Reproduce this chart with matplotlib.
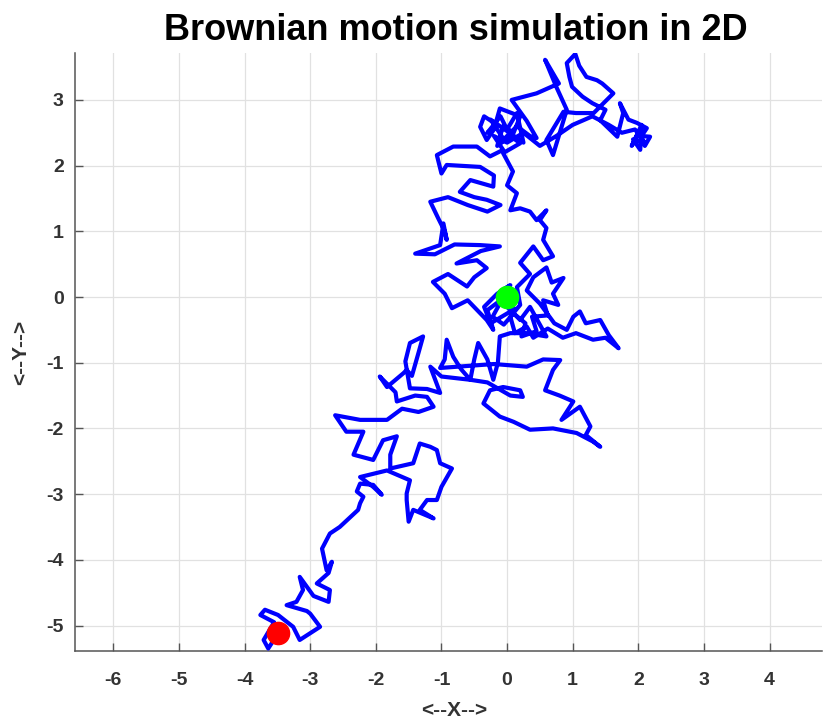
#!/usr/bin/env python3

# 2D brownian motion path

#import modules
import matplotlib
matplotlib.use("Agg")
import matplotlib.pyplot as plt
import numpy as np

#data (x, y), in path order
seg_center = [(0.00, 0.00), (-0.08, 0.10), (0.05, 0.18), (-0.15, 0.05), (-0.35, -0.15), (-0.25, -0.40),
              (0.12, -0.18), (-0.10, -0.08), (-0.22, -0.30), (-0.05, -0.42), (0.10, -0.25),
              (0.28, -0.40), (0.22, -0.60), (0.45, -0.52), (0.38, -0.30), (0.62, -0.28), (0.55, -0.05),
              (0.78, -0.12), (0.70, 0.05), (0.86, 0.29), (0.68, 0.22), (0.60, 0.45), (0.40, 0.30),
              (0.30, 0.10), (0.50, -0.10), (0.72, -0.40), (0.91, -0.50), (1.01, -0.30), (1.11, -0.22),
              (1.20, -0.40), (1.42, -0.35), (1.55, -0.58), (1.70, -0.78), (1.50, -0.62), (1.31, -0.65),
              (1.05, -0.55), (0.85, -0.62), (0.62, -0.48), (0.40, -0.62), (0.30, -0.45), (0.12, -0.55),
              (0.05, -0.30), (0.20, -0.12), (0.15, 0.15), (0.35, 0.35), (0.20, 0.52), (0.40, 0.77),
              (0.55, 0.56), (0.70, 0.62), (0.55, 0.87)]
seg_upper = [(0.60, 1.05), (0.50, 1.17), (0.60, 1.32), (0.45, 1.17), (0.35, 1.30), (0.20, 1.35),
             (0.05, 1.32), (0.15, 1.58), (0.00, 1.70), (0.09, 1.91), (-0.06, 2.19), (0.20, 2.34),
             (0.05, 2.45), (-0.15, 2.30), (-0.06, 2.60), (0.10, 2.50), (0.20, 2.75), (-0.11, 2.87),
             (-0.20, 2.55), (-0.31, 2.39), (-0.41, 2.59), (-0.35, 2.75), (-0.15, 2.62), (-0.30, 2.50),
             (-0.10, 2.75), (0.00, 2.55), (0.15, 2.80), (0.25, 2.35), (-0.25, 2.70), (-0.05, 2.40),
             (0.15, 2.60), (0.35, 2.45), (0.45, 2.42), (0.30, 2.68), (0.07, 3.00), (0.45, 3.10),
             (0.79, 3.25), (0.58, 3.61), (0.75, 3.20), (0.91, 2.85), (0.70, 2.16), (0.60, 2.39),
             (0.86, 2.82)]
seg_top = [(1.05, 2.80), (1.32, 2.80), (1.62, 3.10), (1.45, 3.25), (1.37, 3.30), (1.21, 3.35),
           (1.10, 3.52), (1.04, 3.70), (0.91, 3.56), (0.95, 3.35), (0.99, 3.20), (1.15, 3.05),
           (1.30, 2.95), (1.50, 2.85), (1.42, 2.69), (1.68, 2.44), (1.77, 2.80), (1.72, 2.95),
           (1.85, 2.70), (1.98, 2.65), (2.13, 2.57), (2.05, 2.45), (2.18, 2.44), (2.10, 2.30),
           (2.00, 2.50), (1.90, 2.30), (2.05, 2.62), (2.03, 2.24), (1.92, 2.40), (2.10, 2.35),
           (1.95, 2.55), (1.75, 2.50), (1.55, 2.62), (1.30, 2.75), (1.00, 2.62), (0.75, 2.45),
           (0.50, 2.30), (0.25, 2.50), (0.00, 2.35), (-0.20, 2.45), (-0.06, 2.24), (-0.26, 2.14)]
seg_loop = [(-0.46, 2.29), (-0.82, 2.29), (-1.07, 2.16), (-1.00, 1.88), (-0.92, 2.01), (-0.41, 1.98),
            (-0.20, 1.85), (-0.21, 1.68), (-0.56, 1.78), (-0.72, 1.60), (-0.50, 1.52), (-0.31, 1.48),
            (-0.10, 1.40), (-0.30, 1.30), (-0.60, 1.40), (-0.90, 1.52), (-1.17, 1.45), (-1.05, 1.20),
            (-0.95, 1.00), (-0.92, 0.87), (-0.97, 1.12), (-1.02, 0.79)]
seg_mid = [(-1.40, 0.66), (-1.10, 0.65), (-0.80, 0.80), (-0.41, 0.79), (-0.11, 0.77), (-0.40, 0.70),
           (-0.77, 0.51), (-0.46, 0.56), (-0.31, 0.44), (-0.50, 0.30), (-0.61, 0.16), (-0.90, 0.35),
           (-1.13, 0.23), (-0.95, 0.05), (-0.84, -0.17), (-0.60, -0.05), (-0.31, -0.35), (-0.21, -0.50),
           (-0.30, -0.20), (-0.10, -0.05), (0.20, -0.35), (0.35, -0.15), (0.60, -0.60), (0.30, -0.55),
           (0.05, -0.55), (-0.11, -0.60)]
seg_lower = [(-0.14, -1.00), (-0.21, -1.26), (-0.30, -0.95), (-0.44, -0.70), (-0.50, -0.95), (-0.56, -1.26),
             (-0.70, -1.10), (-0.82, -0.91), (-0.92, -0.65), (-0.95, -0.95), (-1.02, -1.08), (-0.60, -1.05),
             (-0.20, -1.02), (0.30, -1.06), (0.55, -0.95), (0.81, -0.96), (0.70, -1.11), (0.58, -1.42),
             (0.80, -1.50), (1.01, -1.59), (0.83, -1.87), (1.11, -1.67), (1.27, -1.97), (1.20, -2.10),
             (1.42, -2.28), (1.31, -2.20), (1.06, -2.07), (0.70, -2.00), (0.35, -2.02), (0.10, -1.90),
             (-0.11, -1.82), (-0.36, -1.62), (-0.26, -1.42), (-0.06, -1.37), (0.20, -1.42), (0.24, -1.52),
             (0.05, -1.50), (-0.30, -1.30), (-0.56, -1.26), (-1.00, -1.21), (-1.17, -1.06), (-1.02, -1.46),
             (-1.22, -1.40), (-1.48, -1.39), (-1.55, -0.98), (-1.48, -0.70), (-1.28, -0.60), (-1.35, -0.85),
             (-1.45, -1.20)]
seg_left = [(-1.53, -1.11), (-1.58, -1.16), (-1.83, -1.37), (-1.94, -1.21), (-1.70, -1.45), (-1.68, -1.59),
            (-1.40, -1.50), (-1.22, -1.52), (-1.12, -1.67), (-1.35, -1.75), (-1.60, -1.70), (-1.83, -1.87),
            (-2.24, -1.87), (-2.62, -1.80), (-2.45, -2.05), (-2.19, -2.05), (-2.34, -2.40), (-2.04, -2.48),
            (-1.89, -2.18), (-1.68, -2.12), (-1.78, -2.40), (-1.78, -2.61), (-1.43, -2.53), (-1.33, -2.23),
            (-1.17, -2.28), (-1.07, -2.33), (-1.02, -2.53), (-0.84, -2.61), (-0.97, -2.84), (-1.00, -2.89),
            (-1.07, -3.09), (-1.22, -3.09), (-1.33, -3.24), (-1.12, -3.37), (-1.43, -3.24), (-1.50, -3.42),
            (-1.53, -3.09), (-1.53, -2.99), (-1.48, -2.79), (-1.83, -2.64), (-2.24, -2.74), (-2.04, -2.89),
            (-1.91, -3.01), (-2.04, -2.86), (-2.24, -2.84), (-2.29, -2.96), (-2.19, -3.04), (-2.24, -3.14),
            (-2.27, -3.24)]
seg_tail = [(-2.55, -3.50), (-2.70, -3.60), (-2.82, -3.83), (-2.75, -4.16), (-2.67, -4.03), (-2.72, -4.20),
            (-2.90, -4.36), (-2.70, -4.46), (-2.72, -4.64), (-2.95, -4.55), (-3.16, -4.26), (-3.11, -4.46),
            (-3.21, -4.64), (-3.36, -4.69), (-3.05, -4.78), (-3.00, -4.82), (-2.85, -5.02), (-3.16, -5.22),
            (-3.26, -5.02), (-3.49, -4.84), (-3.69, -4.76), (-3.76, -4.84), (-3.55, -4.95), (-3.71, -5.22),
            (-3.64, -5.35), (-3.49, -5.12)]

x_ticks = [-6, -5, -4, -3, -2, -1, 0, 1, 2, 3, 4]
y_ticks = [-5, -4, -3, -2, -1, 0, 1, 2, 3]

def main():
    path = np.array(seg_center + seg_upper + seg_top + seg_loop + seg_mid + seg_lower + seg_left + seg_tail)
    px, py = path[:, 0], path[:, 1]

    plt.rcParams["font.family"] = ["Liberation Sans", "DejaVu Sans"]
    plt.rcParams["font.weight"] = "bold"
    plt.rcParams["axes.unicode_minus"] = False #plain hyphen like the reference

    #create figure and axes (placed to match the reference pixels)
    fig = plt.figure(figsize=(8.23, 7.22), dpi=100, facecolor="white")
    ax = fig.add_axes([75/823, 71/722, 747/823, 598/722])

    #path, start and end
    ax.plot(px, py, color=(0, 0, 1), linewidth=3.0, solid_joinstyle="round", zorder=3)
    ax.plot(px[0], py[0], "o", color=(0, 1, 0), markersize=16, zorder=4)
    ax.plot(px[-1], py[-1], "o", color=(1, 0, 0), markersize=16, zorder=4)

    #axes look (matlab-ish)
    ax.set_xlim(-6.585, 4.80)
    ax.set_ylim(-5.388, 3.714)
    ax.set_xticks(x_ticks)
    ax.set_yticks(y_ticks)
    ax.grid(True, color="#e1e1e1", linewidth=0.9)
    ax.set_axisbelow(True)
    for side in ["top", "right"]:
        ax.spines[side].set_visible(False)
    for side in ["left", "bottom"]:
        ax.spines[side].set_color("#555555")
        ax.spines[side].set_linewidth(1.1)
    ax.tick_params(direction="in", length=6, width=1, color="#555555", labelcolor="#333333",
                   labelsize=14)
    ax.tick_params(axis="x", pad=15)
    ax.tick_params(axis="y", pad=8)

    #titles and labels
    fig.text(456/823, 1 - 31/722, "Brownian motion simulation in 2D", ha="center", va="center",
             fontsize=26, fontweight="bold", color="black")
    fig.text(454/823, 1 - 710/722, "<--X-->", ha="center", va="center", fontsize=15, fontweight="bold",
             color="#333333")
    fig.text(21/823, 1 - 352/722, "<--Y-->", ha="center", va="center", rotation=90, fontsize=15,
             fontweight="bold", color="#333333")

    fig.savefig("out.png", dpi=100, facecolor="white")
#end main

if __name__ == "__main__":
    main()
#end if  __name__ == "__main__"
